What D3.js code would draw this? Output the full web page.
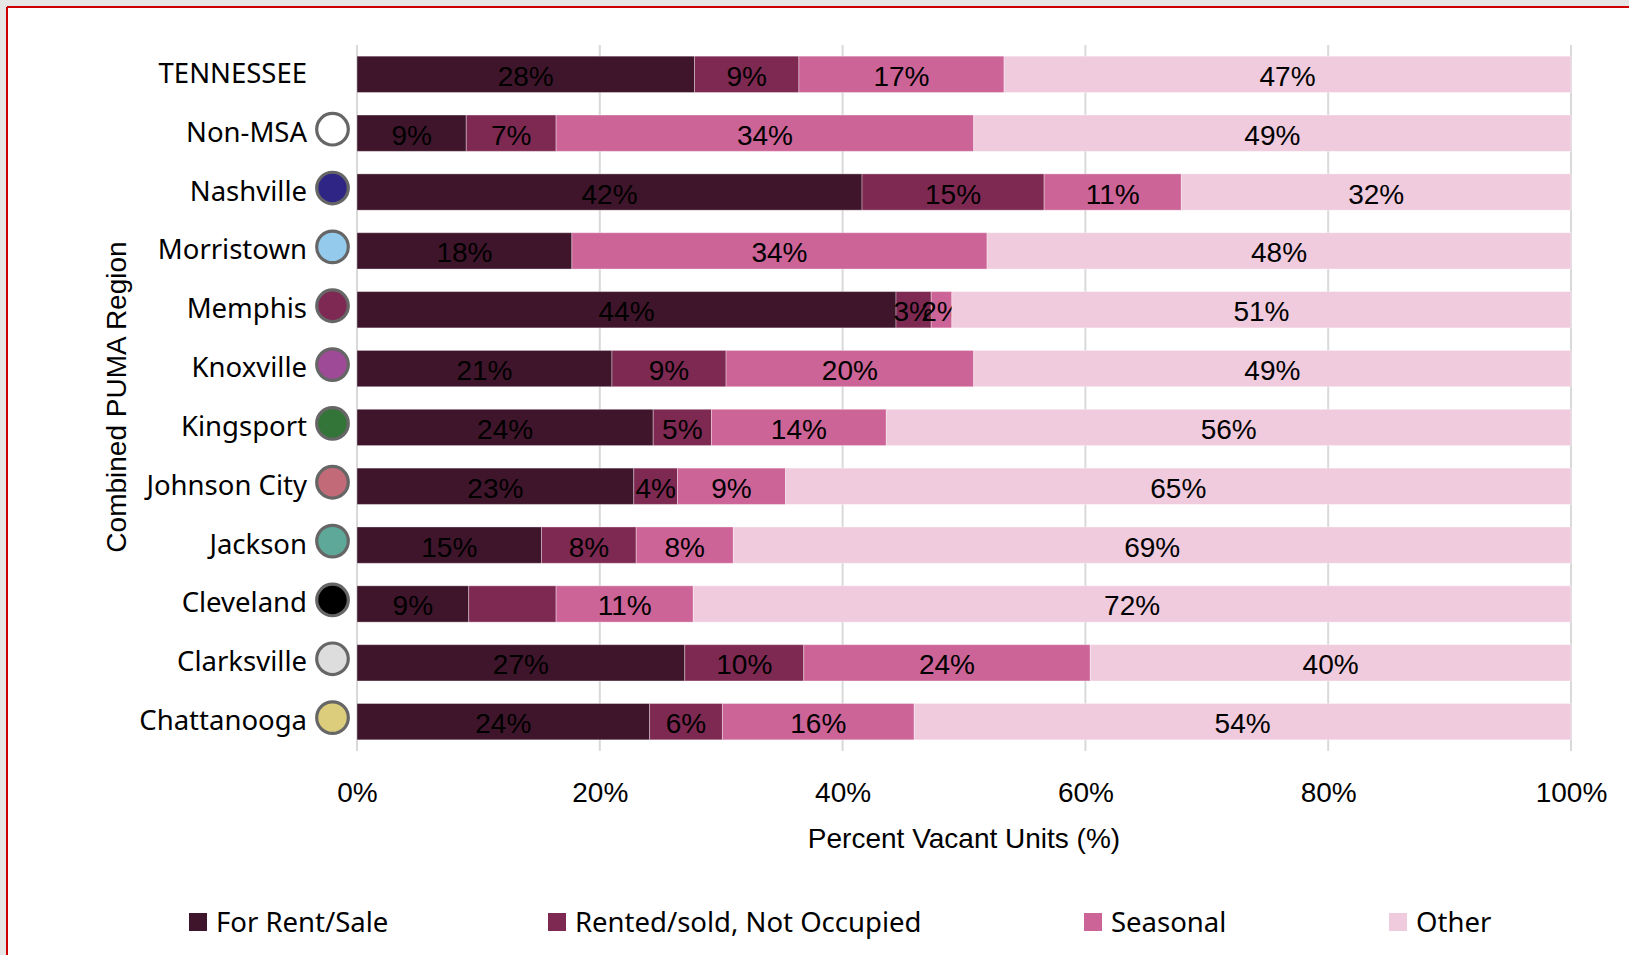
<!DOCTYPE html>
<html>
<head>
<meta charset="utf-8">
<script src="https://cdn.jsdelivr.net/npm/d3@7"></script>
<style>
  html, body { margin: 0; padding: 0; background: #e6e6e6; }
  svg { display: block; }
</style>
</head>
<body>
<svg id="chart" width="1629" height="955"></svg>
<script>
// Vacant housing units by type, per combined PUMA region (percent of vacant units)
const regions = ["TENNESSEE", "Non-MSA", "Nashville", "Morristown", "Memphis", "Knoxville",
  "Kingsport", "Johnson City", "Jackson", "Cleveland", "Clarksville", "Chattanooga"];

const forRentSale       = [27.8, 9.0, 41.6, 17.7, 44.4, 21.0, 24.4, 22.8, 15.2, 9.2, 27.0, 24.1];
const rentedNotOccupied = [8.6, 7.4, 15.0, 0.0, 2.9, 9.4, 4.8, 3.6, 7.8, 7.2, 9.8, 6.0];
const seasonal          = [16.9, 34.4, 11.3, 34.2, 1.7, 20.4, 14.4, 8.9, 8.0, 11.3, 23.6, 15.8];
const other             = [46.7, 49.2, 32.1, 48.1, 51.0, 49.2, 56.4, 64.7, 69.0, 72.3, 39.6, 54.1];

const seriesNames = ["For Rent/Sale", "Rented/sold, Not Occupied", "Seasonal", "Other"];
const xTicks = [0, 20, 40, 60, 80, 100];

// segments whose value label is left off
const hiddenLabels = [["Cleveland", "Rented/sold, Not Occupied"]];

// styling
const seriesColors = ["#3f152b", "#7e2952", "#cc6497", "#efcbdd"];
const regionMarkerColors = [null, "#ffffff", "#2e2585", "#94cbec", "#7e2954", "#9f4a96",
  "#337538", "#c26a77", "#5da899", "#000000", "#dddddd", "#dccd7d"];

const table = regions.map((r, i) => ({
  region: r,
  [seriesNames[0]]: forRentSale[i],
  [seriesNames[1]]: rentedNotOccupied[i],
  [seriesNames[2]]: seasonal[i],
  [seriesNames[3]]: other[i]
}));

const svg = d3.select("#chart");
const W = 1629, H = 955;

// white panel with red frame on top and left
svg.append("rect").attr("x", 7).attr("y", 7).attr("width", W).attr("height", H).attr("fill", "#ffffff");
svg.append("line").attr("x1", 7).attr("x2", W).attr("y1", 7).attr("y2", 7)
  .attr("stroke", "#cc0000").attr("stroke-width", 2);
svg.append("line").attr("x1", 7).attr("x2", 7).attr("y1", 7).attr("y2", H)
  .attr("stroke", "#cc0000").attr("stroke-width", 2);

const plot = { left: 357, right: 1571, top: 45, bottom: 751 };

const x = d3.scaleLinear().domain([0, 100]).range([plot.left, plot.right]);
const y = d3.scaleBand().domain(regions).range([plot.top, plot.bottom])
  .paddingInner(0.383).paddingOuter(0.19);

// vertical gridlines
svg.append("g").selectAll("line").data(xTicks).join("line")
  .attr("x1", d => x(d)).attr("x2", d => x(d))
  .attr("y1", plot.top).attr("y2", plot.bottom)
  .attr("stroke", "#d9d9d9").attr("stroke-width", 2);

// x axis labels
const xAxis = d3.axisBottom(x).tickValues(xTicks).tickFormat(d => d + "%").tickSize(0).tickPadding(0);
const gx = svg.append("g").attr("transform", `translate(0,${plot.bottom + 31})`).call(xAxis);
gx.select(".domain").remove();
gx.selectAll("text")
  .attr("font-family", "'Liberation Sans', Arial, sans-serif")
  .attr("font-size", 28).attr("fill", "#000").attr("dy", "0.71em");

svg.append("text")
  .attr("x", (plot.left + plot.right) / 2).attr("y", 848)
  .attr("text-anchor", "middle")
  .attr("font-family", "'Liberation Sans', Arial, sans-serif")
  .attr("font-size", 28).attr("fill", "#000")
  .text("Percent Vacant Units (%)");

svg.append("text")
  .attr("transform", `translate(126,${(plot.top + plot.bottom) / 2 - 1}) rotate(-90)`)
  .attr("text-anchor", "middle")
  .attr("font-family", "'Liberation Sans', Arial, sans-serif")
  .attr("font-size", 28).attr("fill", "#000")
  .text("Combined PUMA Region");

// stacked bars
const stack = d3.stack().keys(seriesNames)(table);
const color = d3.scaleOrdinal().domain(seriesNames).range(seriesColors);
const isHidden = (region, key) => hiddenLabels.some(h => h[0] === region && h[1] === key);

const layers = svg.append("g").selectAll("g").data(stack).join("g")
  .attr("fill", s => color(s.key));

layers.selectAll("rect").data(s => s.map(d => ({ d, key: s.key }))).join("rect")
  .attr("x", p => x(p.d[0]))
  .attr("y", p => y(p.d.data.region))
  .attr("width", p => x(p.d[1]) - x(p.d[0]))
  .attr("height", y.bandwidth())
  .attr("stroke", "#ffffff").attr("stroke-opacity", 0.35).attr("stroke-width", 1);

const fmt = d3.format(".0f");
layers.selectAll("text")
  .data(s => s.map(d => ({ d, key: s.key })).filter(p => (p.d[1] - p.d[0]) > 0 && !isHidden(p.d.data.region, p.key)))
  .join("text")
  .attr("x", p => (x(p.d[0]) + x(p.d[1])) / 2)
  .attr("y", p => y(p.d.data.region) + y.bandwidth() / 2 + 2)
  .attr("text-anchor", "middle").attr("dominant-baseline", "central")
  .attr("font-family", "'Liberation Sans', Arial, sans-serif")
  .attr("font-size", 28).attr("fill", "#000")
  .text(p => fmt(p.d[1] - p.d[0]) + "%");

// category labels with region markers
const cats = svg.append("g");
cats.selectAll("text").data(regions).join("text")
  .attr("x", 307).attr("y", r => y(r) + y.bandwidth() / 2 - 2)
  .attr("text-anchor", "end").attr("dominant-baseline", "central")
  .attr("font-family", "'Noto Sans', sans-serif")
  .attr("font-size", 27.5).attr("fill", "#000")
  .text(r => r);

cats.selectAll("circle").data(regions.map((r, i) => ({ r, c: regionMarkerColors[i] })).filter(o => o.c))
  .join("circle")
  .attr("cx", 332.5).attr("cy", o => y(o.r) + y.bandwidth() / 2 - 4)
  .attr("r", 15.8)
  .attr("fill", o => o.c)
  .attr("stroke", "#666666").attr("stroke-width", 3.2);

// legend
const legendX = [189, 548, 1084, 1389];
const lg = svg.append("g").selectAll("g").data(seriesNames).join("g")
  .attr("transform", (d, i) => `translate(${legendX[i]},913)`);
lg.append("rect").attr("width", 18).attr("height", 18).attr("fill", d => color(d));
lg.append("text").attr("x", 27).attr("y", 8)
  .attr("dominant-baseline", "central")
  .attr("font-family", "'Noto Sans', sans-serif")
  .attr("font-size", 27.5).attr("fill", "#000")
  .text(d => d);
</script>
</body>
</html>
